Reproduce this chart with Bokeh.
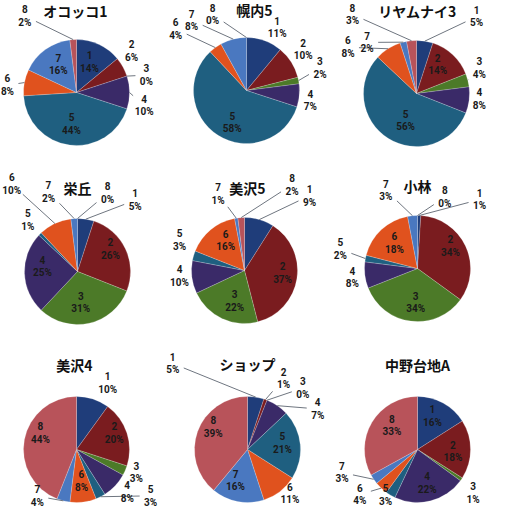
import math
from bokeh.plotting import figure
from bokeh.models import ColumnDataSource, Range1d
from bokeh.embed import file_html
from bokeh.resources import INLINE
from bokeh.core.properties import value

# ---------------- data ----------------
categories = ["1", "2", "3", "4", "5", "6", "7", "8"]
sites = ["オコッコ1", "幌内5", "リヤムナイ3", "栄丘", "美沢5", "小林", "美沢4", "ショップ", "中野台地A"]
okokko1 = [14, 6, 0, 10, 44, 8, 16, 2]
horonai5 = [11, 10, 2, 7, 58, 4, 8, 0]
riyamunai3 = [5, 14, 4, 8, 56, 8, 2, 3]
sakaeoka = [5, 26, 31, 25, 1, 10, 2, 0]
bisawa5 = [9, 37, 22, 10, 3, 16, 1, 2]
kobayashi = [1, 34, 34, 8, 2, 18, 3, 0]
bisawa4 = [10, 20, 3, 8, 3, 8, 4, 44]
shop = [5, 1, 0, 7, 21, 11, 16, 39]
nakano = [16, 18, 1, 22, 3, 4, 3, 33]
series = [okokko1, horonai5, riyamunai3, sakaeoka, bisawa5, kobayashi, bisawa4, shop, nakano]

# ---------------- style / layout ----------------
colors = ["#1f3d7a", "#7a1c1f", "#4c7a28", "#3a2a68", "#1f5f80", "#e0521e", "#4a78c0", "#b8535a"]
W, H = 491, 507
IMG_H = 523
R = 53
centers = [(84, 100), (254, 98), (424, 101),
           (85, 279), (252, 278), (425, 276),
           (84, 457), (255, 457), (425, 457)]
title_pos = [(83, 18), (262, 17), (425, 18),
             (85, 195), (255, 195), (425, 193),
             (82, 372), (255, 371), (425, 372)]
# label placement: (angle clockwise from 12 o'clock in degrees, radius factor, leader line?)
label_layout = [
    [(23, 0.63, False), (53, 1.3, False), (76, 1.36, True), (101, 1.3, True),
     (189, 0.6, False), (276, 1.31, True), (327, 0.63, False), (326, 1.74, True)],
    [(26, 1.32, False), (54, 1.32, False), (73, 1.45, True), (99, 1.22, False),
     (204, 0.66, False), (311, 1.77, True), (322, 1.68, True), (336, 1.57, True)],
    [(38, 1.84, True), (36, 0.68, False), (68, 1.28, True), (95, 1.19, False),
     (202, 0.55, False), (304, 1.56, True), (316, 1.34, True), (321, 1.92, True)],
    [(39, 1.73, True), (56, 0.75, False), (174, 0.59, False), (278, 0.67, False),
     (316, 1.35, False), (323, 2.06, True), (340, 1.6, True), (21, 1.58, True)],
    [(41, 1.87, True), (94, 0.72, False), (198, 0.6, False), (265, 1.23, False),
     (295, 1.35, False), (328, 0.67, False), (341, 1.53, True), (29, 1.85, True)],
    [(42, 1.75, True), (56, 0.75, False), (183, 0.64, False), (262, 1.24, False),
     (284, 1.5, True), (318, 0.65, False), (338, 1.59, True), (21, 1.44, True)],
    [(25, 1.39, False), (66, 0.78, False), (111, 1.21, False), (130, 1.25, False),
     (122, 1.65, True), (171, 0.6, False), (220, 1.15, True), (295, 0.75, False)],
    [(319, 2.15, True), (27, 1.5, True), (42, 1.56, True), (60, 1.53, True),
     (79, 0.67, False), (136, 1.15, False), (201, 0.63, False), (303, 0.77, False)],
    [(24, 0.69, False), (93, 0.67, False), (128, 1.33, False), (164, 0.66, False),
     (215, 1.05, True), (232, 1.38, True), (253, 1.49, True), (313, 0.66, False)],
]

p = figure(width=W, height=H, output_backend="svg", toolbar_location=None,
           x_range=Range1d(8, 8 + W), y_range=Range1d(IMG_H - 8 - H, IMG_H - 8),
           min_border=0)
p.axis.visible = False
p.grid.visible = False
p.outline_line_color = None
p.background_fill_color = "white"
p.border_fill_color = "white"

wx, wy, ws, we, wc = [], [], [], [], []
lx, ly, lt = [], [], []
sx0, sy0, sx1, sy1 = [], [], [], []
for k, vals in enumerate(series):
    cx, cy = centers[k]
    total = float(sum(vals))
    cum = 0.0
    for i, v in enumerate(vals):
        a0 = cum / total
        cum += v
        a1 = cum / total
        if v > 0:
            wx.append(cx)
            wy.append(IMG_H - cy)
            ws.append(math.pi / 2 - 2 * math.pi * a1)
            we.append(math.pi / 2 - 2 * math.pi * a0)
            wc.append(colors[i])
        mid = 2 * math.pi * (a0 + a1) / 2  # clockwise from 12 o'clock
        ang, rf, lead = label_layout[k][i]
        a = math.radians(ang)
        px = cx + rf * R * math.sin(a)
        py = cy - rf * R * math.cos(a)
        lx.append(px)
        ly.append(IMG_H - py)
        lt.append("%s\n%d%%" % (categories[i], v))
        if lead:
            ex = cx + R * math.sin(mid)
            ey = cy - R * math.cos(mid)
            vx, vy = ex - px, ey - py
            hw, hh = 11.0, 13.0
            t = min(hw / abs(vx) if abs(vx) > 1e-6 else 1e9,
                    hh / abs(vy) if abs(vy) > 1e-6 else 1e9)
            t = min(t, 1.0)
            sx0.append(ex)
            sy0.append(IMG_H - ey)
            sx1.append(px + vx * t)
            sy1.append(IMG_H - (py + vy * t))

wedges = ColumnDataSource(dict(x=wx, y=wy, s=ws, e=we, c=wc))
p.wedge(x="x", y="y", radius=R, start_angle="s", end_angle="e", source=wedges,
        fill_color="c", line_color="white", line_width=0.5, line_alpha=0.4)

p.segment(x0=sx0, y0=sy0, x1=sx1, y1=sy1, line_color="#6f7680", line_width=1)

p.text(x=lx, y=ly, text=lt, text_align="center", text_baseline="middle",
       text_font=value("Roboto"), text_font_style="bold",
       text_font_size=value("10px"), text_color="#1a1a1a", text_line_height=1.15)

tx = [t[0] for t in title_pos]
ty = [IMG_H - t[1] for t in title_pos]
p.text(x=tx, y=ty, text=sites, text_align="center", text_baseline="middle",
       text_font=value("Noto Sans CJK JP"), text_font_style="bold",
       text_font_size=value("14px"), text_color="#111111")

open("out.html", "w").write(file_html(p, INLINE))
